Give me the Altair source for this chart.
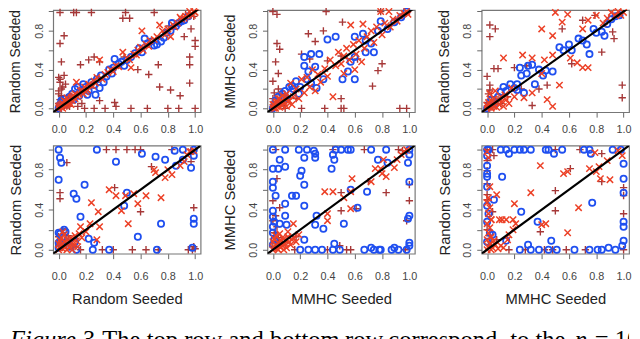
import altair as alt
import pandas as pd

# ---------------- data ----------------
A_circle = [(0.00,0.00),(0.01,0.04),(0.02,0.08),(0.03,0.06),(0.05,0.10),(0.06,0.04),(0.08,0.12),(0.10,0.15),(0.11,0.09),(0.12,0.20),(0.14,0.22),(0.15,0.13),(0.16,0.17),(0.18,0.25),(0.20,0.22),(0.21,0.14),(0.22,0.18),(0.24,0.27),(0.26,0.24),(0.27,0.14),(0.28,0.30),(0.30,0.21),(0.31,0.34),(0.33,0.27),(0.35,0.33),(0.37,0.40),(0.39,0.36),(0.40,0.42),(0.41,0.51),(0.44,0.46),(0.46,0.48),(0.48,0.44),(0.50,0.50),(0.53,0.53),(0.56,0.57),(0.59,0.62),(0.61,0.58),(0.63,0.72),(0.65,0.67),(0.68,0.69),(0.70,0.65),(0.72,0.66),(0.75,0.69),(0.77,0.73),(0.79,0.78),(0.82,0.80),(0.83,0.88),(0.86,0.85),(0.88,0.88),(0.90,0.90),(0.92,0.91),(0.95,0.95)]
A_cross = [(0.00,0.00),(0.00,0.02),(0.01,0.03),(0.02,0.01),(0.02,0.04),(0.03,0.05),(0.03,0.00),(0.04,0.02),(0.04,0.08),(0.05,0.07),(0.05,0.03),(0.06,0.04),(0.06,0.11),(0.07,0.09),(0.07,0.05),(0.08,0.06),(0.09,0.11),(0.09,0.04),(0.10,0.08),(0.10,0.12),(0.11,0.13),(0.12,0.10),(0.12,0.15),(0.13,0.27),(0.14,0.12),(0.15,0.14),(0.16,0.18),(0.17,0.19),(0.18,0.15),(0.19,0.22),(0.20,0.17),(0.21,0.19),(0.22,0.25),(0.23,0.24),(0.25,0.23),(0.26,0.28),(0.27,0.26),(0.28,0.32),(0.30,0.50),(0.32,0.30),(0.34,0.35),(0.36,0.37),(0.38,0.40),(0.40,0.38),(0.42,0.44),(0.44,0.43),(0.47,0.58),(0.50,0.52),(0.52,0.50),(0.53,0.42),(0.55,0.56),(0.57,0.55),(0.58,0.60),(0.60,0.63),(0.61,0.80),(0.62,0.60),(0.64,0.66),(0.66,0.64),(0.67,0.70),(0.70,0.71),(0.72,0.74),(0.74,0.86),(0.76,0.80),(0.78,0.76),(0.80,0.82),(0.82,0.74),(0.84,0.86),(0.85,0.84),(0.87,0.88),(0.89,0.94),(0.90,0.92),(0.92,0.93),(0.93,0.95),(0.95,0.96),(0.96,1.00),(0.97,0.98),(0.98,0.96),(0.99,1.00),(1.00,0.99)]
A_plus = [(0.01,0.99),(0.11,0.99),(0.13,0.99),(0.24,0.99),(0.49,0.99),(0.47,0.93),(0.52,0.93),(0.70,0.99),(0.04,0.75),(0.01,0.67),(0.02,0.48),(0.00,0.32),(0.01,0.27),(0.02,0.20),(0.00,0.15),(0.03,0.10),(0.16,0.45),(0.22,0.50),(0.26,0.53),(0.30,0.48),(0.48,0.53),(0.58,0.40),(0.66,0.35),(0.73,0.45),(0.74,0.22),(0.82,0.19),(0.89,0.13),(0.96,0.26),(0.96,0.45),(0.96,0.53),(1.00,0.64),(1.00,0.70),(0.92,0.74),(0.97,0.82),(0.02,0.00),(0.14,0.02),(0.19,0.00),(0.26,0.00),(0.34,0.00),(0.42,0.02),(0.53,0.00),(0.65,0.00),(0.80,0.00),(0.88,0.00),(1.00,0.00),(0.12,0.11),(0.17,0.05),(0.30,0.08),(0.41,0.06),(0.06,0.03),(0.08,0.14),(0.05,0.25),(0.85,0.87),(0.93,0.97),(0.99,0.95),(0.81,0.85),(0.00,0.05),(0.01,0.09),(0.02,0.13),(0.00,0.18),(0.03,0.22),(0.01,0.30),(0.04,0.34),(0.02,0.02),(0.05,0.06),(0.08,0.02)]

B_circle = [(0.00,0.00),(0.01,0.03),(0.02,0.08),(0.04,0.12),(0.05,0.05),(0.07,0.15),(0.09,0.18),(0.10,0.10),(0.12,0.22),(0.14,0.23),(0.15,0.20),(0.17,0.28),(0.19,0.15),(0.20,0.22),(0.23,0.44),(0.23,0.53),(0.25,0.30),(0.26,0.38),(0.28,0.26),(0.28,0.56),(0.31,0.43),(0.32,0.21),(0.34,0.56),(0.37,0.30),(0.40,0.71),(0.46,0.74),(0.51,0.30),(0.55,0.38),(0.57,0.48),(0.60,0.30),(0.60,0.53),(0.60,0.74),(0.66,0.77),(0.68,0.58),(0.68,0.70),(0.72,0.67),(0.74,0.58),(0.77,0.80),(0.79,0.90),(0.84,0.82),(0.89,0.89),(0.94,0.94),(0.98,1.00)]
B_cross = [(0.00,0.01),(0.00,0.04),(0.01,0.04),(0.01,0.00),(0.02,0.00),(0.02,0.06),(0.03,0.07),(0.03,0.02),(0.04,0.02),(0.04,0.10),(0.05,0.10),(0.05,0.01),(0.06,0.04),(0.06,0.08),(0.07,0.13),(0.07,0.03),(0.08,0.06),(0.09,0.11),(0.10,0.02),(0.10,0.15),(0.11,0.07),(0.12,0.08),(0.13,0.26),(0.14,0.04),(0.15,0.12),(0.17,0.20),(0.19,0.10),(0.21,0.30),(0.23,0.16),(0.25,0.32),(0.27,0.22),(0.29,0.40),(0.31,0.18),(0.33,0.35),(0.35,0.27),(0.38,0.41),(0.40,0.33),(0.42,0.50),(0.44,0.12),(0.46,0.44),(0.48,0.58),(0.50,0.46),(0.52,0.36),(0.52,0.54),(0.54,0.62),(0.56,0.50),(0.57,0.86),(0.59,0.66),(0.60,0.40),(0.61,0.56),(0.63,0.70),(0.65,0.48),(0.66,0.87),(0.67,0.62),(0.69,0.74),(0.72,0.80),(0.74,0.68),(0.76,0.84),(0.79,1.00),(0.80,0.76),(0.82,0.88),(0.85,1.00),(0.86,0.84),(0.88,0.92),(0.91,0.90),(0.93,0.96),(0.96,0.98),(0.98,1.00),(0.99,0.97)]
B_plus = [(0.00,1.00),(0.03,0.97),(0.39,1.00),(0.51,0.89),(0.79,1.00),(0.37,0.80),(0.26,0.77),(0.31,0.69),(0.03,0.67),(0.05,0.61),(0.02,0.48),(0.04,0.36),(0.00,0.28),(0.21,0.56),(0.27,0.51),(0.40,0.49),(0.50,0.54),(0.62,0.51),(0.80,0.46),(0.77,0.39),(0.73,0.23),(0.50,0.10),(0.50,0.00),(0.52,0.00),(0.38,0.00),(0.21,0.00),(0.93,0.00),(0.98,0.00),(0.09,0.00),(0.17,0.10),(0.11,0.11),(0.04,0.20),(0.85,0.85),(0.95,0.97),(0.92,0.93),(0.00,0.10),(0.01,0.16),(0.02,0.05),(0.06,0.14),(0.08,0.03)]

C_circle = [(0.00,0.00),(0.02,0.04),(0.03,0.09),(0.05,0.06),(0.08,0.12),(0.10,0.17),(0.12,0.22),(0.14,0.18),(0.17,0.25),(0.20,0.21),(0.22,0.25),(0.22,0.19),(0.24,0.42),(0.25,0.34),(0.27,0.16),(0.29,0.36),(0.30,0.44),(0.33,0.45),(0.35,0.25),(0.38,0.40),(0.41,0.34),(0.43,0.39),(0.48,0.38),(0.53,0.63),(0.56,0.60),(0.60,0.66),(0.62,0.60),(0.67,0.72),(0.70,0.70),(0.73,0.66),(0.75,0.56),(0.78,0.82),(0.80,0.78),(0.84,0.79),(0.86,0.75),(0.88,0.87),(0.91,0.92),(0.94,0.95),(0.97,0.96)]
C_cross = [(0.00,0.00),(0.00,0.03),(0.01,0.01),(0.01,0.06),(0.02,0.03),(0.03,0.00),(0.03,0.08),(0.04,0.04),(0.05,0.02),(0.05,0.10),(0.06,0.06),(0.07,0.01),(0.08,0.09),(0.09,0.04),(0.10,0.12),(0.11,0.07),(0.12,0.02),(0.13,0.14),(0.14,0.09),(0.16,0.05),(0.02,0.15),(0.06,0.18),(0.12,0.52),(0.18,0.21),(0.20,0.12),(0.26,0.55),(0.27,0.11),(0.33,0.52),(0.33,0.16),(0.40,0.82),(0.40,0.36),(0.42,0.50),(0.44,0.09),(0.48,0.75),(0.48,0.55),(0.48,0.02),(0.50,0.99),(0.53,0.24),(0.55,0.89),(0.59,0.97),(0.61,0.52),(0.66,0.47),(0.70,0.82),(0.70,0.42),(0.74,0.91),(0.74,0.42),(0.80,0.96),(0.85,0.88),(0.88,0.93),(0.91,0.99),(0.94,0.96),(0.96,1.00),(0.98,0.96),(1.00,0.99)]
C_plus = [(0.02,0.86),(0.06,0.82),(0.02,0.74),(0.05,0.41),(0.08,0.41),(0.00,0.33),(0.02,0.24),(0.02,0.19),(0.20,0.42),(0.29,0.44),(0.38,0.20),(0.44,0.24),(0.55,0.82),(0.79,0.96),(0.93,0.72),(0.84,0.58),(0.62,0.46),(0.99,0.24),(0.99,0.11),(0.33,0.03),(0.08,0.09),(0.70,0.91),(0.92,0.79),(0.00,0.06),(0.03,0.12),(0.05,0.02),(0.10,0.05),(0.01,0.15),(0.15,0.12),(0.25,0.20),(0.97,0.98),(0.88,0.90)]

D_circle = [(0.00,1.00),(0.01,0.92),(0.02,0.87),(0.00,0.70),(0.28,1.00),(0.42,0.88),(0.61,0.96),(0.71,0.93),(0.78,0.90),(0.85,0.99),(0.91,0.90),(0.97,0.82),(0.86,0.84),(0.19,0.65),(0.11,0.56),(0.13,0.51),(0.50,0.57),(0.48,0.44),(0.16,0.33),(0.75,0.26),(0.58,0.13),(0.99,0.31),(0.99,0.26),(0.22,0.11),(0.26,0.07),(0.25,0.00),(0.37,0.00),(0.72,0.00),(0.98,0.02),(0.01,0.16),(0.04,0.20),(0.00,0.07),(0.12,0.08),(0.13,0.00),(0.99,1.00),(0.99,0.94),(0.91,1.00),(0.00,0.02),(0.01,0.08),(0.03,0.13),(0.05,0.18),(0.00,0.17),(0.02,0.05),(0.06,0.08),(0.08,0.03)]
D_cross = [(0.37,0.60),(0.42,0.54),(0.49,0.54),(0.55,0.56),(0.64,0.54),(0.75,0.52),(0.71,0.77),(0.70,0.80),(0.78,0.72),(0.83,0.75),(0.80,0.80),(0.89,0.84),(0.92,0.88),(0.97,0.98),(0.24,0.47),(0.29,0.38),(0.23,0.26),(0.30,0.23),(0.51,0.26),(0.58,0.46),(0.46,0.39),(0.16,0.23),(0.28,0.10),(0.96,0.98),(0.00,0.00),(0.01,0.02),(0.02,0.05),(0.03,0.01),(0.04,0.08),(0.05,0.03),(0.06,0.10),(0.07,0.06),(0.08,0.02),(0.09,0.12),(0.10,0.07),(0.11,0.04),(0.12,0.14),(0.13,0.09),(0.14,0.03),(0.02,0.12),(0.04,0.15),(0.00,0.06),(0.06,0.00),(0.10,0.00),(0.01,0.09),(0.03,0.18),(0.15,0.16),(0.17,0.12),(0.20,0.18),(0.94,0.95),(0.99,0.99)]
D_plus = [(0.35,1.00),(0.42,1.00),(0.50,1.00),(0.56,1.00),(0.60,1.00),(0.83,1.00),(0.06,0.87),(0.01,0.57),(0.01,0.51),(0.41,0.62),(0.60,0.38),(0.99,0.42),(0.99,0.03),(0.16,0.00),(0.32,0.00),(0.40,0.00),(0.54,0.00),(0.64,0.00),(0.73,0.00),(0.95,0.00),(0.68,0.83),(0.97,0.88),(0.05,0.10),(0.07,0.07),(0.00,0.04),(0.02,0.10),(0.04,0.06),(0.00,0.13),(0.07,0.14),(0.09,0.09),(0.03,0.20),(0.98,0.00),(1.00,0.01)]

E_circle = [(0.00,1.00),(0.09,1.00),(0.19,1.00),(0.25,1.00),(0.30,0.99),(0.31,0.96),(0.46,1.00),(0.50,1.00),(0.55,1.00),(0.57,1.00),(0.72,1.00),(0.83,1.00),(1.00,1.00),(0.05,0.90),(0.00,0.81),(0.04,0.81),(0.09,0.83),(0.21,0.79),(0.20,0.74),(0.31,0.92),(0.23,0.92),(0.44,0.95),(0.45,0.90),(0.43,0.81),(0.23,0.65),(0.14,0.54),(0.17,0.54),(0.09,0.46),(0.23,0.44),(0.00,0.68),(0.00,0.62),(0.02,0.54),(0.00,0.39),(0.00,0.33),(0.01,0.28),(0.00,0.23),(0.00,0.17),(0.01,0.10),(0.00,0.05),(0.09,0.34),(0.05,0.26),(0.10,0.25),(0.23,0.10),(0.31,0.25),(0.32,0.34),(0.37,0.21),(0.52,0.26),(0.62,0.42),(0.57,0.60),(0.69,0.58),(0.77,0.90),(0.84,0.87),(0.99,0.87),(1.00,0.68),(1.00,0.34),(0.99,0.31),(1.00,0.07),(1.00,0.04),(0.20,0.00),(0.26,0.00),(0.31,0.00),(0.36,0.00),(0.44,0.00),(0.49,0.00),(0.67,0.00),(0.74,0.00),(0.78,0.00),(0.79,0.00),(0.87,0.00),(0.92,0.00),(0.98,0.00),(0.45,0.06),(0.72,0.02),(0.89,0.02),(1.00,0.95)]
E_cross = [(0.96,0.98),(0.91,0.90),(0.89,0.82),(0.81,0.90),(0.79,0.81),(0.75,0.81),(0.80,0.76),(0.83,0.73),(0.72,0.68),(0.58,0.71),(0.57,0.58),(0.52,0.52),(0.44,0.58),(0.38,0.58),(0.57,0.41),(0.40,0.36),(0.40,0.29),(0.15,0.26),(0.11,0.18),(0.07,0.12),(0.19,0.15),(0.14,0.10),(0.00,0.00),(0.01,0.02),(0.02,0.05),(0.03,0.01),(0.04,0.07),(0.05,0.03),(0.06,0.09),(0.07,0.04),(0.08,0.11),(0.09,0.06),(0.10,0.02),(0.11,0.13),(0.12,0.08),(0.00,0.08),(0.02,0.14),(0.05,0.16),(0.13,0.05),(0.15,0.12),(0.17,0.08),(0.04,0.00),(0.08,0.00),(0.01,0.11),(0.98,1.00),(0.94,0.95)]
E_plus = [(0.02,1.00),(0.44,1.00),(0.67,1.00),(0.03,0.71),(0.00,0.49),(0.05,0.42),(0.02,0.34),(0.00,0.29),(0.03,0.23),(0.50,0.57),(0.50,0.39),(0.61,0.41),(0.83,0.57),(1.00,0.65),(1.00,0.49),(0.98,0.29),(0.49,0.04),(0.54,0.00),(0.57,0.00),(0.40,0.00),(0.16,0.00),(0.97,0.00),(0.09,0.07),(0.17,0.13),(0.95,0.99),(0.92,1.00),(0.70,0.68),(0.00,0.03),(0.02,0.08),(0.04,0.12),(0.01,0.17),(0.06,0.05)]

F_circle = [(0.00,1.00),(0.01,1.00),(0.10,1.00),(0.14,1.00),(0.16,0.96),(0.20,1.00),(0.24,1.00),(0.27,1.00),(0.32,1.00),(0.43,1.00),(0.45,1.00),(0.49,0.96),(0.55,1.00),(0.71,1.00),(0.75,1.00),(0.76,0.96),(0.92,1.00),(0.98,1.00),(0.00,0.94),(0.00,0.84),(0.00,0.76),(0.00,0.73),(0.00,0.63),(0.00,0.44),(0.00,0.28),(0.02,0.17),(0.04,0.15),(0.05,0.50),(0.11,0.73),(0.25,0.38),(0.37,0.28),(0.77,0.47),(0.47,0.09),(0.30,0.05),(0.14,0.09),(1.00,0.86),(1.00,0.71),(1.00,0.57),(1.00,0.28),(1.00,0.23),(1.00,0.09),(0.99,0.04),(0.24,0.00),(0.32,0.00),(0.38,0.00),(0.45,0.00),(0.51,0.00),(0.64,0.00),(0.75,0.00),(0.81,0.00),(0.84,0.00),(0.89,0.02),(0.94,0.00),(0.00,0.08),(0.01,0.36)]
F_cross = [(0.39,0.84),(0.32,0.57),(0.07,0.55),(0.20,0.46),(0.19,0.30),(0.21,0.26),(0.11,0.30),(0.14,0.30),(0.03,0.30),(0.40,0.25),(0.43,0.26),(0.59,0.17),(0.67,0.42),(0.56,0.76),(0.59,0.78),(0.75,0.81),(0.82,0.83),(0.80,0.78),(0.83,0.71),(0.90,0.70),(0.88,0.89),(0.79,0.97),(0.96,0.99),(0.99,0.94),(0.19,0.20),(0.16,0.15),(0.00,0.00),(0.01,0.03),(0.02,0.06),(0.00,0.10),(0.03,0.13),(0.01,0.17),(0.02,0.22),(0.00,0.26),(0.03,0.30),(0.01,0.36),(0.02,0.42),(0.00,0.47),(0.01,0.52),(0.04,0.02),(0.06,0.05),(0.08,0.01),(0.05,0.09),(0.10,0.04),(0.12,0.02),(0.03,0.00),(0.02,0.63),(0.01,0.92),(0.00,0.98),(0.09,0.30),(0.15,0.10)]
F_plus = [(0.05,0.94),(0.00,1.00),(0.04,1.00),(0.50,1.00),(0.68,1.00),(0.61,0.81),(0.50,0.59),(0.50,0.39),(0.39,0.18),(0.00,0.89),(0.00,0.79),(0.00,0.66),(0.00,0.55),(0.00,0.50),(0.04,0.38),(0.00,0.20),(0.16,0.00),(0.28,0.00),(0.42,0.00),(0.48,0.00),(0.58,0.00),(0.72,0.00),(0.84,0.68),(1.00,0.62),(1.00,0.54),(1.00,0.36),(1.00,0.00),(0.84,0.96),(0.07,0.10),(0.01,0.05),(0.03,0.08),(0.02,0.14)]

TICKS = [0.0, 0.2, 0.4, 0.6, 0.8, 1.0]
DIAG = [-0.04, 1.04]
CAPTION = ["Figure 3.", "The top row and bottom", "row", "correspond", "to the", "n", "= 100"]
CAPTION_ITALIC = [True, False, False, False, False, True, False]

BLUE = "#1f4ff0"
RED = "#ec4026"
BROWN = "#a63838"
PLUS = "M-1,0L1,0M0,-1L0,1"
XMARK = "M-1,-1L1,1M-1,1L1,-1"
FONT = "Liberation Sans"


def frame(circ, cross, plus):
    rows = []
    for s, pts in (("plus", plus), ("circle", circ), ("cross", cross)):
        for x, y in pts:
            rows.append({"x": x, "y": y, "s": s})
    return pd.DataFrame(rows)


def panel(circ, cross, plus, ytitle, xtitle, ydom, h):
    df = frame(circ, cross, plus)
    xs = alt.Scale(domain=[-0.04, 1.04], nice=False, zero=False)
    ys = alt.Scale(domain=ydom, nice=False, zero=False)
    yexpr = "(datum.value == 0 || datum.value == 0.4 || datum.value == 0.8) ? datum.label : ''"
    if xtitle:
        xax = alt.Axis(values=TICKS, format=".1f", title=xtitle, labelPadding=12, titlePadding=11)
        yax = alt.Axis(values=TICKS, format=".1f", title=ytitle, labelExpr=yexpr,
                       titleFontSize=15, titlePadding=10)
    else:
        xax = alt.Axis(values=TICKS, format=".1f", title=None, labelPadding=7)
        yax = alt.Axis(values=TICKS, format=".1f", title=ytitle, labelExpr=yexpr,
                       titleFontSize=14, titlePadding=11)
    enc = dict(x=alt.X("x:Q", scale=xs, axis=xax), y=alt.Y("y:Q", scale=ys, axis=yax))
    base = alt.Chart(df).encode(**enc)
    p = base.transform_filter(alt.datum.s == "plus").mark_point(
        shape=PLUS, filled=False, size=56, strokeWidth=1.4, color=BROWN, opacity=1)
    c = base.transform_filter(alt.datum.s == "circle").mark_point(
        shape="circle", filled=False, size=40, strokeWidth=1.8, color=BLUE, opacity=1)
    x = base.transform_filter(alt.datum.s == "cross").mark_point(
        shape=XMARK, filled=False, size=42, strokeWidth=1.5, color=RED, opacity=1)
    d = alt.Chart(pd.DataFrame({"x": DIAG, "y": DIAG})).mark_line(
        color="black", strokeWidth=2.2, clip=True).encode(**enc)
    return alt.layer(p, c, x, d).properties(width=150, height=h)


TOP = [-0.04, 1.015]
BOT = [-0.04, 1.04]
pA = panel(A_circle, A_cross, A_plus, "Random Seeded", None, TOP, 104)
pB = panel(B_circle, B_cross, B_plus, "MMHC Seeded", None, TOP, 104)
pC = panel(C_circle, C_cross, C_plus, "Random Seeded", None, TOP, 104)
pD = panel(D_circle, D_cross, D_plus, "Random Seeded", "Random Seeded", BOT, 110)
pE = panel(E_circle, E_cross, E_plus, "MMHC Seeded", "MMHC Seeded", BOT, 110)
pF = panel(F_circle, F_cross, F_plus, "Random Seeded", "MMHC Seeded", BOT, 110)

top = alt.hconcat(pA, pB, pC, spacing=19)
bottom = alt.hconcat(pD, pE, pF, spacing=19)
grid = alt.vconcat(top, bottom, spacing=6)

# caption pieces, placed relative to the first panel's plot origin
cap_pos = [-44, 50, 297, 341, 465, 531, 551]
cap_layers = []
for i, t in enumerate(CAPTION):
    cap_layers.append(
        alt.Chart(pd.DataFrame({"t": [t]})).mark_text(
            align="left", baseline="alphabetic", font="Liberation Serif",
            fontSize=25, fontStyle="italic" if CAPTION_ITALIC[i] else "normal",
            color="black", clip=(i == len(CAPTION) - 1)
        ).encode(text="t:N", x=alt.value(cap_pos[i]), y=alt.value(41))
    )
caption = alt.layer(*cap_layers).properties(
    width=586, height=44, view=alt.ViewBackground(strokeOpacity=0))

chart = alt.vconcat(grid, caption, spacing=0).properties(
    padding={"left": 0, "top": -7, "right": 0, "bottom": 0}
).configure_view(stroke="#777777", strokeWidth=1.2).configure_axis(
    labelFont=FONT, labelFontSize=11, labelColor="#444444",
    titleFont=FONT, titleFontSize=15, titleFontWeight="normal", titleColor="#222222",
    tickColor="#666666", tickSize=5, domain=False, grid=False,
).configure_axisY(
    labelAngle=270, labelAlign="center", labelBaseline="bottom", labelPadding=4
)

chart.save("out.html", embed_options={"renderer": "svg", "actions": False})
